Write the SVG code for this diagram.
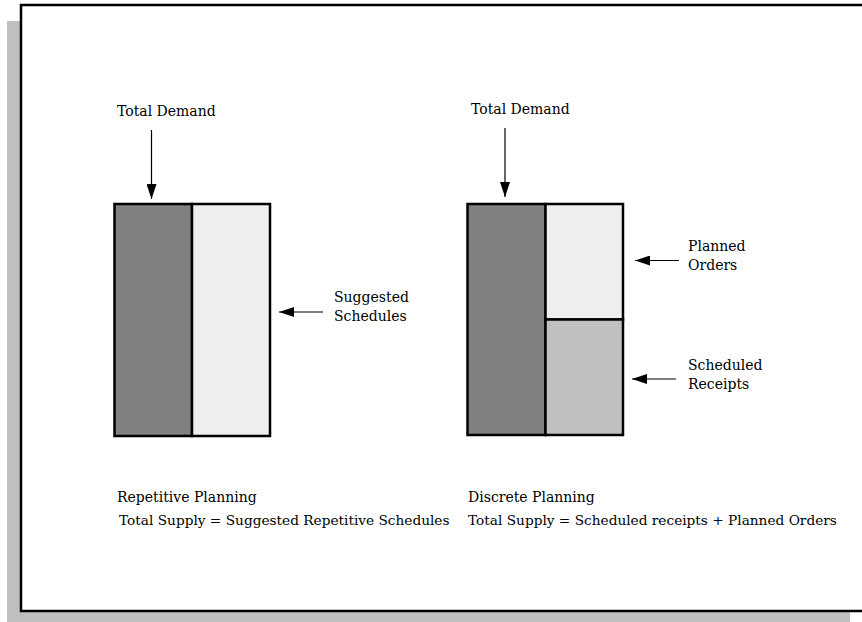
<svg xmlns="http://www.w3.org/2000/svg" width="862" height="622" viewBox="0 0 862 622">
<style>
text{font-family:"DejaVu Serif","Liberation Serif",serif;font-size:14px;fill:#000}
.sm{font-size:13.7px}
.box{stroke:#000;stroke-width:2.5}
.conn{stroke:#000;stroke-width:1.2;fill:none;marker-end:url(#ah)}
</style>
<defs>
<marker id="ah" viewBox="0 0 15 10" refX="15" refY="5" markerWidth="15" markerHeight="10" markerUnits="userSpaceOnUse" orient="auto">
<path d="M0,0 L15,5 L0,10 Z" fill="#000"/>
</marker>
</defs>
<rect x="0" y="0" width="862" height="622" fill="#fff"/>
<g id="frame">
<rect x="7" y="21" width="843" height="601" fill="#c0c0c0"/>
<rect x="21" y="5" width="850" height="606" fill="#fff" stroke="#000" stroke-width="2.5"/>
</g>
<g id="left-chart">
<rect class="box" x="114.5" y="204" width="77.5" height="232" fill="#808080"/>
<rect class="box" x="192" y="204" width="78" height="232" fill="#eeeeee"/>
</g>
<g id="right-chart">
<rect class="box" x="467.5" y="204" width="78" height="231" fill="#808080"/>
<rect class="box" x="545.5" y="204" width="77.5" height="115.5" fill="#eeeeee"/>
<rect class="box" x="545.5" y="319.5" width="77.5" height="115.5" fill="#c0c0c0"/>
</g>
<g id="labels">
<g id="td-left"><text x="117" y="116">Total Demand</text></g>
<g id="td-right"><text x="471" y="114">Total Demand</text></g>
<g id="suggested"><text x="334" y="302">Suggested</text><text x="334" y="321">Schedules</text></g>
<g id="planned"><text x="688" y="251">Planned</text><text x="688" y="270">Orders</text></g>
<g id="scheduled"><text x="688" y="370">Scheduled</text><text x="688" y="389">Receipts</text></g>
<g id="rep"><text x="117" y="502">Repetitive Planning</text><text class="sm" x="119" y="525">Total Supply = Suggested Repetitive Schedules</text></g>
<g id="disc"><text x="468" y="502">Discrete Planning</text><text class="sm" x="468" y="525">Total Supply = Scheduled receipts + Planned Orders</text></g>
</g>
<g id="connectors">
<line class="conn" x1="151.5" y1="130" x2="151.5" y2="199"/>
<line class="conn" x1="505" y1="128" x2="505" y2="197"/>
<line class="conn" x1="323" y1="312" x2="279" y2="312"/>
<line class="conn" x1="679" y1="260.5" x2="635" y2="260.5"/>
<line class="conn" x1="676" y1="379" x2="632" y2="379"/>
</g>
</svg>
